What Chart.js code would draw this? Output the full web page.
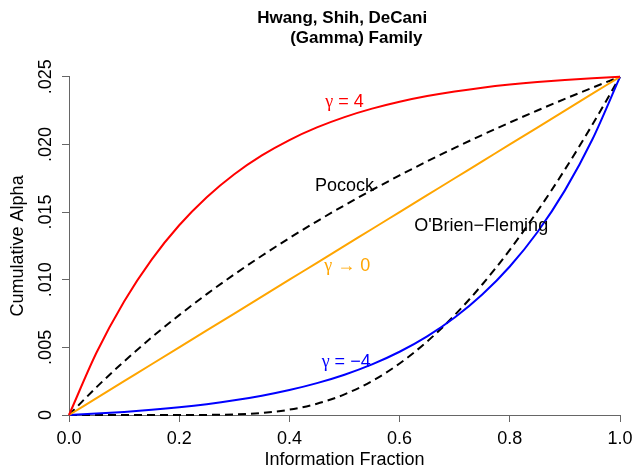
<!DOCTYPE html>
<html>
<head>
<meta charset="utf-8">
<script src="https://cdn.jsdelivr.net/npm/chart.js@4"></script>
<style>
  html, body { margin: 0; padding: 0; background: #fff; }
  #chart { display: block; }
</style>
</head>
<body>
<canvas id="chart" width="634" height="466"></canvas>
<script>
// Information fraction (x) and cumulative alpha spent (y)
const fraction = [0, 0.05, 0.1, 0.15, 0.2, 0.25, 0.3, 0.35, 0.4, 0.45, 0.5,
                  0.55, 0.6, 0.65, 0.7, 0.75, 0.8, 0.85, 0.9, 0.95, 1];

const gammaPlus4 = [0, 0.004616, 0.008396, 0.011490, 0.014024, 0.016098, 0.017796,
                    0.019187, 0.020325, 0.021257, 0.022020, 0.022645, 0.023156,
                    0.023575, 0.023918, 0.024199, 0.024428, 0.024617, 0.024771,
                    0.024897, 0.025];

const gammaZero = [0, 0.00125, 0.0025, 0.00375, 0.005, 0.00625, 0.0075, 0.00875,
                   0.01, 0.01125, 0.0125, 0.01375, 0.015, 0.01625, 0.0175,
                   0.01875, 0.02, 0.02125, 0.0225, 0.02375, 0.025];

const gammaMinus4 = [0, 0.000103, 0.000229, 0.000383, 0.000572, 0.000801, 0.001082,
                     0.001425, 0.001844, 0.002355, 0.002980, 0.003743, 0.004675,
                     0.005814, 0.007204, 0.008902, 0.010976, 0.013510, 0.016604,
                     0.020384, 0.025];

const pocock = [0, 0.002061, 0.003964, 0.005733, 0.007385, 0.008934, 0.010393,
                0.011772, 0.013079, 0.014320, 0.015503, 0.016632, 0.017713,
                0.018749, 0.019743, 0.020700, 0.021621, 0.022510, 0.023368,
                0.024197, 0.025];

const obrienFleming = [0, 0, 0, 0, 0.0000005, 0.0000074, 0.000043, 0.000151,
                       0.000394, 0.000834, 0.001526, 0.002509, 0.003806, 0.005434,
                       0.007384, 0.009648, 0.012208, 0.015054, 0.018144, 0.021472,
                       0.025];

// Axis ticks
const xTicks = [0, 0.2, 0.4, 0.6, 0.8, 1];
const yTicks = [0, 0.005, 0.01, 0.015, 0.02, 0.025];
const yTickLabels = ['0', '.005', '.010', '.015', '.020', '.025'];

// Curve annotations (data coordinates)
const noteText = ['\u03b3 = 4', 'Pocock', "O'Brien\u2212Fleming", '\u03b3 \u2192 0', '\u03b3 = \u22124'];
const noteX = [0.50, 0.50, 0.748, 0.505, 0.503];
const noteY = [0.02315, 0.01694, 0.01398, 0.01102, 0.00392];
const noteColor = ['#ff0000', '#000000', '#000000', '#ffa500', '#0000ff'];
const noteGreek = [true, false, false, true, true];

const SANS = '"Liberation Sans", Arial, Helvetica, sans-serif';
const SERIF = '"Liberation Serif", "DejaVu Serif", serif';
const AXIS_GREY = '#666666';

const toPoints = values => values.map((v, i) => ({ x: fraction[i], y: v }));

const lineStyle = (color, dashed) => ({
    borderColor: color,
    borderWidth: 2,
    borderDash: dashed ? [8, 5] : [],
    pointRadius: 0,
    cubicInterpolationMode: 'monotone',
    fill: false,
    clip: 4
});

// Rotated y tick labels, the way R draws them
const yLabelPlugin = {
    id: 'yLabels',
    afterDraw(chart) {
        const { ctx } = chart;
        const yScale = chart.scales.y;
        ctx.save();
        ctx.fillStyle = '#000';
        ctx.font = '18px ' + SANS;
        ctx.textAlign = 'center';
        ctx.textBaseline = 'alphabetic';
        yTicks.forEach((v, i) => {
            const py = yScale.getPixelForValue(v);
            ctx.save();
            ctx.translate(51, py);
            ctx.rotate(-Math.PI / 2);
            ctx.fillText(yTickLabels[i], 0, 0);
            ctx.restore();
        });
        ctx.restore();
    }
};

// Text labels next to each curve (greek letter in a serif face, like plotmath)
const notePlugin = {
    id: 'curveNotes',
    afterDatasetsDraw(chart) {
        const { ctx } = chart;
        const xScale = chart.scales.x;
        const yScale = chart.scales.y;
        ctx.save();
        ctx.textBaseline = 'middle';
        ctx.textAlign = 'left';
        noteText.forEach((txt, i) => {
            const cx = xScale.getPixelForValue(noteX[i]);
            const cy = yScale.getPixelForValue(noteY[i]);
            const parts = noteGreek[i]
                ? [[txt.slice(0, 1), SERIF], [txt.slice(1), SANS]]
                : [[txt, SANS]];
            const widths = parts.map(([s, f]) => {
                ctx.font = '18px ' + f;
                return ctx.measureText(s).width;
            });
            let x = cx - widths.reduce((a, b) => a + b, 0) / 2;
            ctx.fillStyle = noteColor[i];
            parts.forEach(([s, f], k) => {
                ctx.font = '18px ' + f;
                ctx.fillText(s, x, cy);
                x += widths[k];
            });
        });
        ctx.restore();
    }
};

new Chart(document.getElementById('chart').getContext('2d'), {
    type: 'line',
    data: {
        datasets: [
            { label: 'gamma = 4', data: toPoints(gammaPlus4), ...lineStyle('#ff0000', false) },
            { label: 'gamma -> 0', data: toPoints(gammaZero), ...lineStyle('#ffa500', false) },
            { label: 'gamma = -4', data: toPoints(gammaMinus4), ...lineStyle('#0000ff', false) },
            { label: 'Pocock', data: toPoints(pocock), ...lineStyle('#000000', true) },
            { label: "O'Brien-Fleming", data: toPoints(obrienFleming), ...lineStyle('#000000', true) }
        ]
    },
    options: {
        responsive: false,
        animation: false,
        events: [],
        layout: { padding: { left: 0, right: 14, top: 0, bottom: 0 } },
        plugins: {
            legend: { display: false },
            tooltip: { enabled: false },
            title: {
                display: true,
                fullSize: false,
                text: ['Hwang, Shih, DeCani ', '     (Gamma) Family'],
                color: '#000',
                font: { family: SANS, size: 17, weight: 'bold', lineHeight: 1.2 },
                padding: { top: 8, bottom: 28 }
            }
        },
        scales: {
            x: {
                type: 'linear',
                min: 0,
                max: 1,
                afterFit: scale => {
                    scale.height = 51;
                    // the end labels may hang past the axis ends, as in R
                    scale.paddingLeft = 0;
                    scale.paddingRight = 0;
                },
                afterBuildTicks: scale => { scale.ticks = xTicks.map(v => ({ value: v })); },
                ticks: {
                    callback: v => v.toFixed(1),
                    color: '#000',
                    font: { family: SANS, size: 18 },
                    padding: 6,
                    maxRotation: 0
                },
                grid: { drawOnChartArea: false, tickLength: 7, color: AXIS_GREY },
                border: { color: AXIS_GREY, width: 1 },
                title: {
                    display: true,
                    text: 'Information Fraction',
                    color: '#000',
                    font: { family: SANS, size: 18 },
                    padding: { top: 0, bottom: -5 }
                }
            },
            y: {
                type: 'linear',
                min: 0,
                max: 0.025,
                afterFit: scale => { scale.width = 69; },
                afterBuildTicks: scale => { scale.ticks = yTicks.map(v => ({ value: v })); },
                ticks: {
                    color: 'rgba(0,0,0,0)',
                    font: { family: SANS, size: 18 }
                },
                grid: { drawOnChartArea: false, tickLength: 7, color: AXIS_GREY },
                border: { color: AXIS_GREY, width: 1 },
                title: {
                    display: true,
                    text: 'Cumulative Alpha',
                    color: '#000',
                    font: { family: SANS, size: 18 },
                    padding: { top: 7, bottom: 0 }
                }
            }
        }
    },
    plugins: [notePlugin, yLabelPlugin]
});
</script>
</body>
</html>
